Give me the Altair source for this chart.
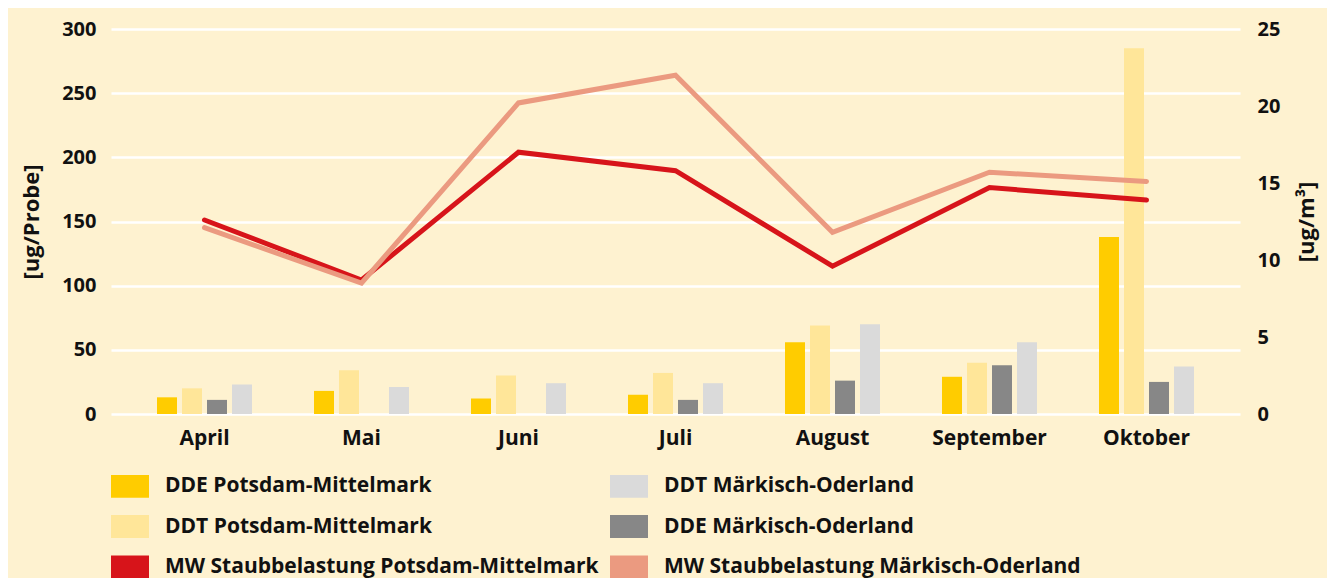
import altair as alt
import pandas as pd

months = ["April", "Mai", "Juni", "Juli", "August", "September", "Oktober"]

dde_pm = [13, 18, 12, 15, 56, 29, 138]
ddt_pm = [20, 34, 30, 32, 69, 40, 285]
dde_mo = [11, None, None, 11, 26, 38, 25]
ddt_mo = [23, 21, 24, 24, 70, 56, 37]

mw_pm = [12.6, 8.7, 17.0, 15.8, 9.6, 14.7, 13.9]
mw_mo = [12.1, 8.5, 20.2, 22.0, 11.8, 15.7, 15.1]

S_DDE_PM = "DDE Potsdam-Mittelmark"
S_DDT_PM = "DDT Potsdam-Mittelmark"
S_DDE_MO = "DDE Märkisch-Oderland"
S_DDT_MO = "DDT Märkisch-Oderland"
S_MW_PM = "MW Staubbelastung Potsdam-Mittelmark"
S_MW_MO = "MW Staubbelastung Märkisch-Oderland"

bar_order = [S_DDE_PM, S_DDT_PM, S_DDE_MO, S_DDT_MO]
legend_order = [S_DDE_PM, S_DDT_PM, S_MW_PM, S_DDT_MO, S_DDE_MO, S_MW_MO]
legend_colors = ["#FFCC00", "#FFE699", "#D7141A", "#DADADA", "#878787", "#EB9A80"]

bar_rows = []
for name, vals in [(S_DDE_PM, dde_pm), (S_DDT_PM, ddt_pm), (S_DDE_MO, dde_mo), (S_DDT_MO, ddt_mo)]:
    for m, v in zip(months, vals):
        bar_rows.append({"Monat": m, "Serie": name, "Wert": v})
bars_df = pd.DataFrame(bar_rows)

pm_df = pd.DataFrame({"Monat": months, "Serie": S_MW_PM, "Wert": mw_pm})
mo_df = pd.DataFrame({"Monat": months, "Serie": S_MW_MO, "Wert": mw_mo})

FONT = "Open Sans"
TXT = "#111111"
FW = "bold"

x_scale = alt.Scale(domain=months, paddingInner=0.363, paddingOuter=0.277)
color_scale = alt.Scale(domain=legend_order, range=legend_colors)

x_enc = alt.X(
    "Monat:N",
    sort=months,
    scale=x_scale,
    axis=alt.Axis(
        title=None, labelAngle=0, ticks=False, domain=False, grid=False,
        labelPadding=13, labelFontSize=21, labelFont=FONT, labelFontWeight=FW,
        labelColor=TXT,
    ),
)

bars = alt.Chart(bars_df).mark_bar().encode(
    x=x_enc,
    xOffset=alt.XOffset("Serie:N", sort=bar_order,
                        scale=alt.Scale(domain=bar_order, paddingInner=0.2, paddingOuter=0.1)),
    y=alt.Y(
        "Wert:Q",
        scale=alt.Scale(domain=[0, 300], nice=False),
        axis=alt.Axis(
            title="[ug/Probe]", values=[0, 50, 100, 150, 200, 250, 300],
            grid=True, gridColor="white", gridWidth=2.5, gridOpacity=1,
            ticks=False, domain=False, labelPadding=15,
            labelFontSize=20, labelFont=FONT, labelFontWeight=FW, labelColor=TXT,
            titleFontSize=22, titleFont=FONT, titleFontWeight=FW, titleColor=TXT,
            titleX=-68, titleBaseline="bottom", titleAngle=-90,
        ),
    ),
    color=alt.Color(
        "Serie:N", scale=color_scale,
        legend=alt.Legend(
            orient="none", legendX=0, legendY=438, columns=2, title=None,
            symbolType="M-1,-0.6H1V0.6H-1Z", symbolSize=1444,
            symbolStrokeWidth=0, symbolOpacity=1,
            labelFont=FONT, labelFontSize=21, labelFontWeight=FW, labelColor=TXT,
            labelOffset=16, rowPadding=9.5, columnPadding=11, labelLimit=700,
        ),
    ),
)

y_right = alt.Y(
    "Wert:Q",
    scale=alt.Scale(domain=[0, 25], nice=False),
    axis=alt.Axis(
        orient="right", title="[ug/m³]", values=[0, 5, 10, 15, 20, 25],
        grid=False, ticks=False, domain=False, labelPadding=17,
        labelFontSize=20, labelFont=FONT, labelFontWeight=FW, labelColor=TXT,
        titleFontSize=22, titleFont=FONT, titleFontWeight=FW, titleColor=TXT,
        titleX=78, titleBaseline="bottom", titleAngle=-90,
    ),
)

line_pm = alt.Chart(pm_df).mark_line(strokeWidth=5, strokeCap="round").encode(
    x=alt.X("Monat:N", sort=months, scale=x_scale),
    y=y_right,
    color=alt.Color("Serie:N", scale=color_scale, legend=None),
)
line_mo = alt.Chart(mo_df).mark_line(strokeWidth=5, strokeCap="round").encode(
    x=alt.X("Monat:N", sort=months, scale=x_scale),
    y=alt.Y("Wert:Q", scale=alt.Scale(domain=[0, 25], nice=False)),
    color=alt.Color("Serie:N", scale=color_scale, legend=None),
)

lines = alt.layer(line_pm, line_mo)

chart = (
    alt.layer(bars, lines)
    .resolve_scale(y="independent")
    .properties(
        width=1129, height=385,
        background="#FEF2D0",
        autosize=alt.AutoSizeParams(type="none"),
        padding={"left": 103, "top": 21, "right": 87, "bottom": 164},
    )
    .configure_view(stroke=None)
)

chart.save("out.html", embed_options={"renderer": "svg", "actions": False})
